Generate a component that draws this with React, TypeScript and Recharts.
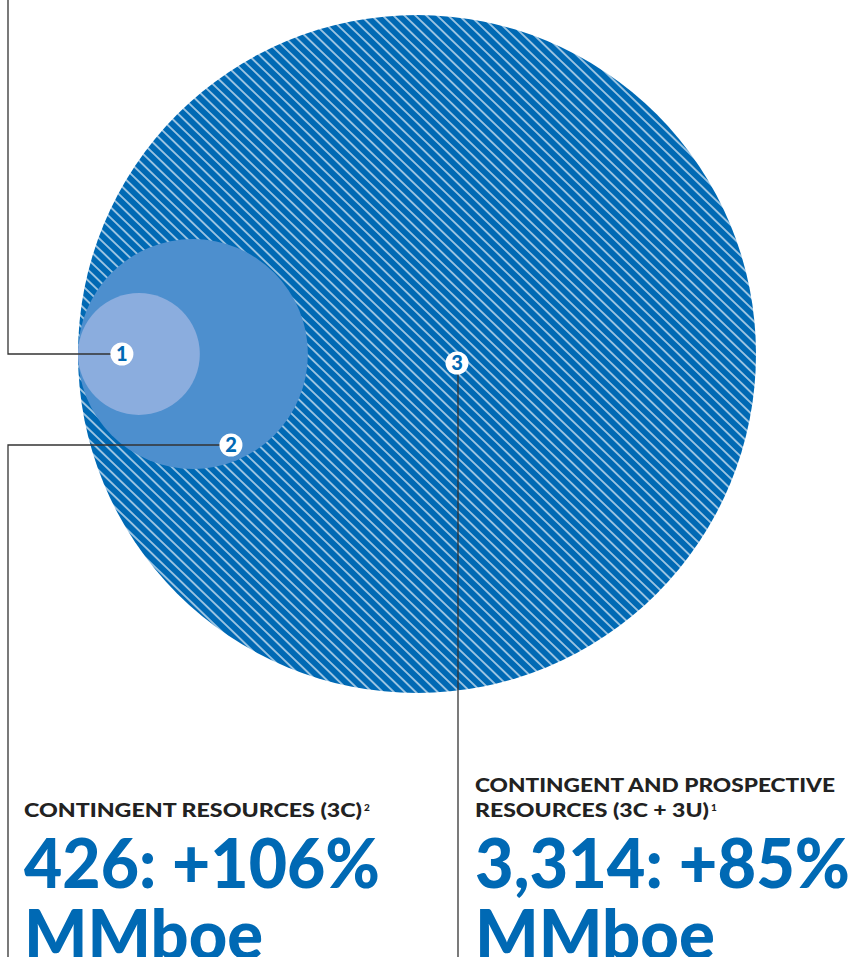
import { ScatterChart, Scatter, XAxis, YAxis, ZAxis } from "recharts";

// bubble values (MMboe), smallest to largest; estimated from the circle areas
const markerLabels = ["1", "2", "3"];
const bubbleValues = [107, 381, 3314];

// headline texts under the bubbles
const leftTitle = ["CONTINGENT RESOURCES (3C)"];
const leftNote = "2";
const leftFigure = "426: +106%";
const rightTitle = ["CONTINGENT AND PROSPECTIVE", "RESOURCES (3C + 3U)"];
const rightNote = "1";
const rightFigure = "3,314: +85%";
const unitLabel = "MMboe";

const W = 850;
const H = 957;
const BLUE = "#0069b4";
const INK = "#222222";
const LEADER = "#333333";
const FONT = "Lato, 'Noto Sans', sans-serif";
const MAX_R = 339;
const ANCHOR = { x: 78, y: 354 }; // common tangent point on the left
const RAIL_X = 8;

const BUBBLE_FILLS = ["#8badde", "#4d8fce", "url(#hatch)"];
const MARKER_OFFSETS = [
  { dx: -17, dy: 0 },
  { dx: 38, dy: 91 },
  { dx: 40, dy: 9 },
];

const bubbles = bubbleValues
  .map((v, i) => ({ x: ANCHOR.x, y: ANCHOR.y, z: v, idx: i, label: markerLabels[i] }))
  .sort((a, b) => b.z - a.z);

function radiusOf(props: any) {
  if (props.width) return props.width / 2;
  return Math.sqrt((props.size || 0) / Math.PI);
}

function BubbleShape(props: any) {
  const { cx, cy, payload } = props;
  const r = radiusOf(props);
  return (
    <g>
      {payload.idx === 2 && (
        <defs>
          <pattern
            id="hatch"
            patternUnits="userSpaceOnUse"
            width={10}
            height={7.6}
            patternTransform="rotate(44)"
          >
            <rect x={0} y={0} width={10} height={7.6} fill={BLUE} />
            <line x1={0} x2={10} y1={3.8} y2={3.8} stroke="#ffffff" strokeWidth={1.15} />
          </pattern>
        </defs>
      )}
      <circle cx={cx + r} cy={cy} r={r} fill={BUBBLE_FILLS[payload.idx]} />
    </g>
  );
}

function MarkerShape(props: any) {
  const { cx, cy, payload } = props;
  const r = radiusOf(props);
  const off = MARKER_OFFSETS[payload.idx];
  const mx = cx + r + off.dx;
  const my = cy + off.dy;
  let d = "";
  if (payload.idx === 0) d = `M${RAIL_X},0 V${my} H${mx}`;
  else if (payload.idx === 1) d = `M${mx},${my} H${RAIL_X} V${H}`;
  else d = `M${mx + 1},${my} V${H}`;
  return (
    <g>
      <path d={d} fill="none" stroke={LEADER} strokeWidth={1.3} />
      <circle cx={mx} cy={my} r={11.5} fill="#ffffff" />
      <text
        x={mx}
        y={my + 7}
        textAnchor="middle"
        fontFamily={FONT}
        fontWeight={900}
        fontSize={20}
        fill={BLUE}
      >
        {payload.label}
      </text>
    </g>
  );
}

function Headlines() {
  return (
    <svg
      width={W}
      height={H}
      style={{ position: "absolute", left: 0, top: 0, pointerEvents: "none" }}
    >
      <g fontFamily={FONT} fontWeight={900}>
        <text x={24} y={817} fontSize={19} fill={INK} textLength={338} lengthAdjust="spacingAndGlyphs">
          {leftTitle[0]}
        </text>
        <text x={364} y={811} fontSize={10} fill={INK}>
          {leftNote}
        </text>
        <text x={24} y={888} fontSize={68} fill={BLUE} textLength={356} lengthAdjust="spacingAndGlyphs">
          {leftFigure}
        </text>
        <text x={24} y={959} fontSize={68} fill={BLUE} textLength={239} lengthAdjust="spacingAndGlyphs">
          {unitLabel}
        </text>

        <text x={475} y={792} fontSize={19} fill={INK} textLength={360} lengthAdjust="spacingAndGlyphs">
          {rightTitle[0]}
        </text>
        <text x={475} y={817} fontSize={19} fill={INK} textLength={234} lengthAdjust="spacingAndGlyphs">
          {rightTitle[1]}
        </text>
        <text x={711} y={811} fontSize={10} fill={INK}>
          {rightNote}
        </text>
        <text x={475} y={888} fontSize={68} fill={BLUE} textLength={375} lengthAdjust="spacingAndGlyphs">
          {rightFigure}
        </text>
        <text x={475} y={959} fontSize={68} fill={BLUE} textLength={240} lengthAdjust="spacingAndGlyphs">
          {unitLabel}
        </text>
      </g>
    </svg>
  );
}

export default function App() {
  return (
    <div style={{ position: "absolute", left: 0, top: 0, width: W, height: H, background: "#fff" }}>
      <ScatterChart width={W} height={H} margin={{ top: 0, right: 0, bottom: 0, left: 0 }}>
        <XAxis type="number" dataKey="x" domain={[0, W]} hide />
        <YAxis type="number" dataKey="y" domain={[0, H]} reversed hide />
        <ZAxis
          type="number"
          dataKey="z"
          domain={[0, bubbleValues[2]]}
          range={[0, Math.PI * MAX_R * MAX_R]}
        />
        <Scatter data={bubbles} shape={BubbleShape} isAnimationActive={false} />
        <Scatter data={bubbles} shape={MarkerShape} isAnimationActive={false} />
      </ScatterChart>
      <Headlines />
    </div>
  );
}
